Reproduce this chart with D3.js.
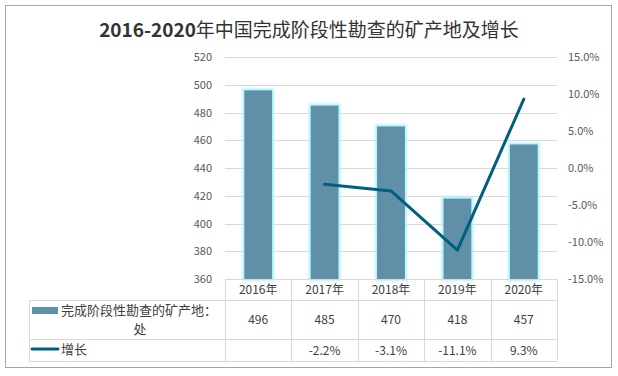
<!DOCTYPE html>
<html>
<head>
<meta charset="utf-8">
<script src="https://cdn.jsdelivr.net/npm/d3@7/dist/d3.min.js"></script>
<style>
  body { margin: 0; background: #fff; }
  text { font-family: "Noto Sans CJK SC", "Noto Sans", sans-serif; }
</style>
</head>
<body>
<div id="chart"></div>
<script>
// data
var years = ["2016年", "2017年", "2018年", "2019年", "2020年"];
var counts = [496, 485, 470, 418, 457];
var growth = [null, -2.2, -3.1, -11.1, 9.3];
var leftTicks = [360, 380, 400, 420, 440, 460, 480, 500, 520];
var rightTicks = [-15, -10, -5, 0, 5, 10, 15];
var barName = "完成阶段性勘查的矿产地：";
var barUnit = "处";
var lineName = "增长";

var w = 618, h = 376;
var barColor = "#5e90a8", lineColor = "#005f80";

// plain hyphen instead of d3's unicode minus
function pct(d) { return d3.format(".1f")(d).replace("−", "-") + "%"; }

var svg = d3.select("#chart").append("svg")
  .attr("width", w).attr("height", h);

// glow filter for the bars
var defs = svg.append("defs");
var f = defs.append("filter").attr("id", "glow")
  .attr("x", "-30%").attr("y", "-10%").attr("width", "160%").attr("height", "120%");
f.append("feMorphology").attr("in", "SourceAlpha").attr("operator", "dilate").attr("radius", 2).attr("result", "d");
f.append("feGaussianBlur").attr("in", "d").attr("stdDeviation", 1.2).attr("result", "b");
f.append("feFlood").attr("flood-color", "#b0f4fa");
f.append("feComposite").attr("in2", "b").attr("operator", "in").attr("result", "g");
var m = f.append("feMerge");
m.append("feMergeNode").attr("in", "g");
m.append("feMergeNode").attr("in", "SourceGraphic");

// outer frame
svg.append("rect")
  .attr("x", 5.5).attr("y", 5.5).attr("width", 606).attr("height", 362)
  .attr("fill", "#fff").attr("stroke", "#a6a6a6").attr("stroke-width", 1);

// title: digits bold, chinese regular (as in the original)
var title = svg.append("text")
  .attr("x", 309).attr("y", 37)
  .attr("text-anchor", "middle")
  .attr("font-size", 19).attr("fill", "#333");
title.append("tspan").attr("font-weight", "bold").text("2016-2020");
title.append("tspan").attr("font-weight", "normal").text("年中国完成阶段性勘查的矿产地及增长");

var plot = { left: 225, right: 557, top: 57, bottom: 279 };

var x = d3.scaleBand().domain(years).range([plot.left, plot.right]).paddingInner(0.58).paddingOuter(0.29);
var xCol = d3.scaleBand().domain(years).range([plot.left, plot.right]);
var y = d3.scaleLinear().domain([360, 520]).range([plot.bottom, plot.top]);
var y2 = d3.scaleLinear().domain([-15, 15]).range([plot.bottom, plot.top]);

// gridlines
svg.append("g").selectAll("line").data(leftTicks).enter().append("line")
  .attr("x1", plot.left).attr("x2", plot.right)
  .attr("y1", function(d) { return Math.round(y(d)) + 0.5; })
  .attr("y2", function(d) { return Math.round(y(d)) + 0.5; })
  .attr("stroke", "#d9d9d9").attr("stroke-width", 1);

// left axis labels
svg.append("g").selectAll("text").data(leftTicks).enter().append("text")
  .attr("x", 212).attr("y", function(d) { return y(d) + 4; })
  .attr("text-anchor", "end").attr("font-size", 11).attr("fill", "#595959")
  .text(function(d) { return d; });

// right axis labels
svg.append("g").selectAll("text").data(rightTicks).enter().append("text")
  .attr("x", 568).attr("y", function(d) { return y2(d) + 4; })
  .attr("font-size", 11).attr("fill", "#595959")
  .text(pct);

// bars
svg.append("g").selectAll("rect").data(counts).enter().append("rect")
  .attr("x", function(d, i) { return x(years[i]); })
  .attr("width", x.bandwidth())
  .attr("y", function(d) { return y(d); })
  .attr("height", function(d) { return y(360) - y(d); })
  .attr("fill", barColor)
  .attr("filter", "url(#glow)");

// line
var pts = growth.map(function(d, i) { return { v: d, i: i }; }).filter(function(d) { return d.v !== null; });
var line = d3.line()
  .x(function(d) { return xCol(years[d.i]) + xCol.bandwidth() / 2; })
  .y(function(d) { return y2(d.v); });
svg.append("path").datum(pts)
  .attr("d", line).attr("fill", "none")
  .attr("stroke", lineColor).attr("stroke-width", 3)
  .attr("stroke-linejoin", "round").attr("stroke-linecap", "round");

// data table
var tbl = svg.append("g");
var tLeft = 29, rows = [279, 300, 339, 361];
var gc = "#d9d9d9";

// horizontal lines
tbl.append("line").attr("x1", plot.left).attr("x2", plot.right).attr("y1", rows[0] + 0.5).attr("y2", rows[0] + 0.5).attr("stroke", gc);
[rows[1], rows[2], rows[3]].forEach(function(r) {
  tbl.append("line").attr("x1", tLeft).attr("x2", plot.right).attr("y1", r + 0.5).attr("y2", r + 0.5).attr("stroke", gc);
});
// vertical lines
tbl.append("line").attr("x1", tLeft + 0.5).attr("x2", tLeft + 0.5).attr("y1", rows[1]).attr("y2", rows[3]).attr("stroke", gc);
years.forEach(function(yr) {
  var xx = Math.round(xCol(yr)) + 0.5;
  tbl.append("line").attr("x1", xx).attr("x2", xx).attr("y1", rows[0]).attr("y2", rows[3]).attr("stroke", gc);
});
tbl.append("line").attr("x1", plot.right + 0.5).attr("x2", plot.right + 0.5).attr("y1", rows[0]).attr("y2", rows[3]).attr("stroke", gc);

// year header
tbl.selectAll(".yr").data(years).enter().append("text")
  .attr("class", "yr")
  .attr("x", function(d) { return xCol(d) + xCol.bandwidth() / 2; })
  .attr("y", 294).attr("text-anchor", "middle").attr("font-size", 12).attr("fill", "#404040")
  .text(function(d) { return d; });

// counts row
tbl.selectAll(".cnt").data(counts).enter().append("text")
  .attr("class", "cnt")
  .attr("x", function(d, i) { return xCol(years[i]) + xCol.bandwidth() / 2; })
  .attr("y", 324).attr("text-anchor", "middle").attr("font-size", 12).attr("fill", "#404040")
  .text(function(d) { return d; });

// growth row
tbl.selectAll(".gr").data(growth).enter().append("text")
  .attr("class", "gr")
  .attr("x", function(d, i) { return xCol(years[i]) + xCol.bandwidth() / 2; })
  .attr("y", 355).attr("text-anchor", "middle").attr("font-size", 12).attr("fill", "#404040")
  .text(function(d) { return d === null ? "" : pct(d); });

// legend keys in the table
tbl.append("rect").attr("x", 32).attr("y", 307).attr("width", 26).attr("height", 7).attr("fill", barColor);
tbl.append("text").attr("x", 61).attr("y", 315).attr("font-size", 13).attr("fill", "#404040").text(barName);
tbl.append("text").attr("x", 140).attr("y", 334).attr("text-anchor", "middle").attr("font-size", 13).attr("fill", "#404040").text(barUnit);
tbl.append("line").attr("x1", 32).attr("x2", 58).attr("y1", 349).attr("y2", 349)
  .attr("stroke", lineColor).attr("stroke-width", 3).attr("stroke-linecap", "round");
tbl.append("text").attr("x", 61).attr("y", 354).attr("font-size", 13).attr("fill", "#404040").text(lineName);
</script>
</body>
</html>
